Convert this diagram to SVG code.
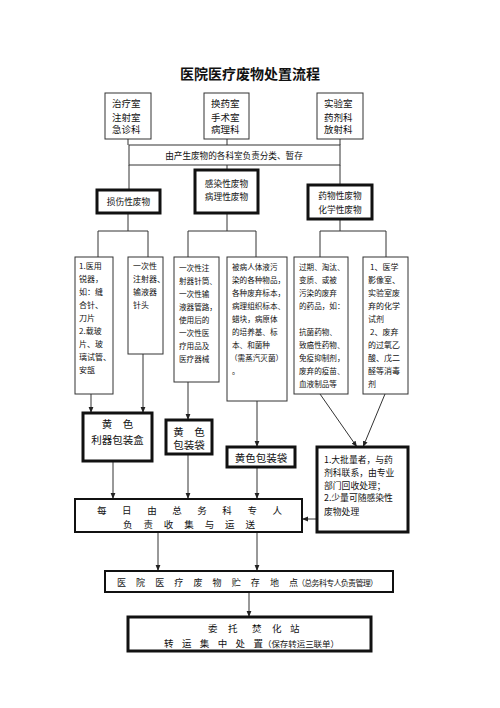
<svg xmlns="http://www.w3.org/2000/svg" width="500" height="708" viewBox="0 0 500 708">
<style>
text{font-family:"Noto Sans CJK SC","Noto Sans",sans-serif;fill:#111}
.box{fill:#fff;stroke:#333;stroke-width:1}
.thick{fill:#fff;stroke:#111;stroke-width:3}
.mid{fill:#fff;stroke:#111;stroke-width:2}
.ln{fill:none;stroke:#333;stroke-width:1}
.arr{fill:none;stroke:#333;stroke-width:1;marker-end:url(#ah)}
.t9{font-size:9.5px}
.t8{font-size:8px}
.t7{font-size:7.6px}
.c{text-anchor:middle}
.big{font-size:10.5px}
</style>
<defs>
<marker id="ah" viewBox="0 0 10 10" refX="10" refY="5" markerWidth="6" markerHeight="6" markerUnits="userSpaceOnUse" orient="auto"><path d="M0,1 L10,5 L0,9 z" fill="#222"/></marker>
</defs>
<rect width="500" height="708" fill="#fff"/>
<text id="title" x="250" y="79" class="c" style="font-size:14px;font-weight:bold">医院医疗废物处置流程</text>

<g id="connectors">
<line class="ln" x1="128" y1="139" x2="128" y2="145"/>
<line class="ln" x1="227" y1="139" x2="227" y2="145"/>
<line class="ln" x1="340" y1="139" x2="340" y2="145"/>
<line class="ln" x1="129" y1="165" x2="129" y2="190"/>
<line class="ln" x1="227" y1="165" x2="227" y2="170"/>
<line class="ln" x1="340" y1="165" x2="340" y2="185"/>
<polyline class="ln" points="128,213 128,231"/>
<polyline class="ln" points="98,257 98,231 148,231 148,257"/>
<polyline class="ln" points="227,213 227,231"/>
<polyline class="ln" points="188,257 188,231 256,231 256,257"/>
<polyline class="ln" points="340,219 340,231"/>
<polyline class="ln" points="320,257 320,231 386,231 386,257"/>
<line class="arr" x1="91" y1="394" x2="91" y2="413"/>
<line class="arr" x1="143" y1="354" x2="143" y2="413"/>
<line class="arr" x1="188" y1="382" x2="188" y2="420"/>
<line class="arr" x1="257" y1="401" x2="257" y2="447"/>
<line class="arr" x1="320" y1="394" x2="357" y2="447"/>
<line class="arr" x1="385" y1="394" x2="363" y2="447"/>
<line class="arr" x1="113" y1="461" x2="113" y2="499"/>
<line class="arr" x1="188" y1="454" x2="188" y2="499"/>
<line class="arr" x1="257" y1="467" x2="257" y2="499"/>
<line class="arr" x1="317" y1="519" x2="302" y2="519"/>
<line class="arr" x1="158" y1="532" x2="158" y2="571"/>
<line class="arr" x1="257" y1="532" x2="257" y2="571"/>
<line class="arr" x1="249" y1="592" x2="249" y2="617"/>
</g>

<g id="dept1"><rect class="box" x="105" y="93" width="46" height="46"/>
<text class="t9" x="112"><tspan x="112" y="106.5">治疗室</tspan><tspan x="112" y="120.5">注射室</tspan><tspan x="112" y="133">急诊科</tspan></text></g>
<g id="dept2"><rect class="box" x="204" y="93" width="45" height="46"/>
<text class="t9"><tspan x="211" y="106.5">换药室</tspan><tspan x="211" y="120.5">手术室</tspan><tspan x="211" y="133">病理科</tspan></text></g>
<g id="dept3"><rect class="box" x="317" y="93" width="46" height="46"/>
<text class="t9"><tspan x="324" y="106.5">实验室</tspan><tspan x="324" y="120.5">药剂科</tspan><tspan x="324" y="133">放射科</tspan></text></g>

<g id="sort"><rect class="box" x="129" y="145" width="211" height="20"/>
<text x="234" y="158.5" class="c" style="font-size:8.6px">由产生废物的各科室负责分类、暂存</text></g>

<g id="cat1"><rect class="thick" x="97" y="190" width="63" height="23"/>
<text x="128.5" y="205" class="c" style="font-size:8.7px">损伤性废物</text></g>
<g id="cat2"><rect class="thick" x="195" y="170" width="63" height="43"/>
<text class="c" style="font-size:8.7px"><tspan x="226.5" y="187">感染性废物</tspan><tspan x="226.5" y="199.5">病理性废物</tspan></text></g>
<g id="cat3"><rect class="thick" x="308" y="185" width="64" height="34"/>
<text class="c" style="font-size:8.7px"><tspan x="340" y="199">药物性废物</tspan><tspan x="340" y="212.5">化学性废物</tspan></text></g>

<g id="b1"><rect class="box" x="75" y="257" width="38" height="137"/>
<text class="t8"><tspan x="79" y="269">1.医用</tspan><tspan x="79" y="282">锐器，</tspan><tspan x="79" y="295">如：缝</tspan><tspan x="79" y="308">合针、</tspan><tspan x="79" y="321">刀片</tspan><tspan x="79" y="334">2.载玻</tspan><tspan x="79" y="347">片、玻</tspan><tspan x="79" y="360">璃试管、</tspan><tspan x="79" y="373">安瓿</tspan></text></g>
<g id="b2"><rect class="box" x="128" y="257" width="35" height="97"/>
<text class="t8"><tspan x="133" y="269">一次性</tspan><tspan x="133" y="282">注射器、</tspan><tspan x="133" y="295">输液器</tspan><tspan x="133" y="308">针头</tspan></text></g>
<g id="b3"><rect class="box" x="174" y="257" width="45" height="125"/>
<text class="t7"><tspan x="179" y="271">一次性注</tspan><tspan x="179" y="284">射器针筒、</tspan><tspan x="179" y="297">一次性输</tspan><tspan x="179" y="310">液器管路，</tspan><tspan x="179" y="323">使用后的</tspan><tspan x="179" y="336">一次性医</tspan><tspan x="179" y="349">疗用品及</tspan><tspan x="179" y="362">医疗器械</tspan></text></g>
<g id="b4"><rect class="box" x="227" y="257" width="60" height="144"/>
<text class="t7"><tspan x="232" y="270">被病人体液污</tspan><tspan x="232" y="283">染的各种物品，</tspan><tspan x="232" y="296">各种废弃标本，</tspan><tspan x="232" y="309">病理组织标本、</tspan><tspan x="232" y="322">蜡块，病原体</tspan><tspan x="232" y="335">的培养基、标</tspan><tspan x="232" y="348">本、和菌种</tspan><tspan x="230" y="361">（需蒸汽灭菌）</tspan><tspan x="232" y="374">。</tspan></text></g>
<g id="b5"><rect class="box" x="294" y="257" width="54" height="137"/>
<text class="t7"><tspan x="299" y="270">过期、淘汰、</tspan><tspan x="299" y="283">变质、或被</tspan><tspan x="299" y="296">污染的废弃</tspan><tspan x="299" y="309">的药品，如：</tspan><tspan x="299" y="335">抗菌药物、</tspan><tspan x="299" y="348">致癌性药物、</tspan><tspan x="299" y="361">免疫抑制剂，</tspan><tspan x="299" y="374">废弃的疫苗、</tspan><tspan x="299" y="387">血液制品等</tspan></text></g>
<g id="b6"><rect class="box" x="363" y="257" width="45" height="137"/>
<text class="t8"><tspan x="370" y="270">1、医学</tspan><tspan x="368" y="283">影像室、</tspan><tspan x="368" y="296">实验室废</tspan><tspan x="368" y="309">弃的化学</tspan><tspan x="368" y="322">试剂</tspan><tspan x="370" y="335">2、废弃</tspan><tspan x="368" y="348">的过氧乙</tspan><tspan x="368" y="361">酸、戊二</tspan><tspan x="368" y="374">醛等消毒</tspan><tspan x="368" y="387">剂</tspan></text></g>

<g id="sharpbox"><rect class="thick" x="83" y="413" width="69" height="48"/>
<text class="c big"><tspan x="117.5" y="428">黄　色</tspan><tspan x="117.5" y="444">利器包装盒</tspan></text></g>
<g id="bag1"><rect class="thick" x="166" y="420" width="46" height="34"/>
<text class="c big"><tspan x="189" y="435.5">黄　色</tspan><tspan x="189" y="449">包装袋</tspan></text></g>
<g id="bag2"><rect class="thick" x="227" y="447" width="68" height="20"/>
<text x="261" y="461.5" class="c big">黄色包装袋</text></g>
<g id="pharm"><rect class="thick" x="317" y="447" width="91" height="85"/>
<text style="font-size:8.8px"><tspan x="324" y="462.5">1.大批量者，与药</tspan><tspan x="324" y="475.5">剂科联系，由专业</tspan><tspan x="324" y="488.5">部门回收处理；</tspan><tspan x="324" y="501">2.少量可随感染性</tspan><tspan x="324" y="514.5">废物处理</tspan></text></g>

<g id="collect"><rect class="mid" x="75" y="499" width="227" height="33"/>
<text x="97" y="514" style="font-size:9.5px" textLength="185" lengthAdjust="spacing">每日由总务科专人</text>
<text x="123" y="528" style="font-size:9.5px" textLength="132" lengthAdjust="spacing">负责收集与运送</text></g>

<g id="storage"><rect class="mid" x="105" y="571" width="288" height="21"/>
<text x="117" y="585.5" style="font-size:9px" textLength="181" lengthAdjust="spacing">医院医疗废物贮存地点</text>
<text x="297" y="585.5" style="font-size:8px" textLength="81" lengthAdjust="spacing">（总务科专人负责管理）</text></g>

<g id="incinerate"><rect class="thick" x="128" y="617" width="243" height="34"/>
<text style="font-size:9.5px" x="208 228 252 272 290" y="631.5">委托焚化站</text>
<text x="164" y="647" style="font-size:9.5px" textLength="99" lengthAdjust="spacing">转运集中处置</text>
<text x="263" y="647" style="font-size:8.5px" textLength="76" lengthAdjust="spacing">（保存转运三联单）</text></g>
</svg>
